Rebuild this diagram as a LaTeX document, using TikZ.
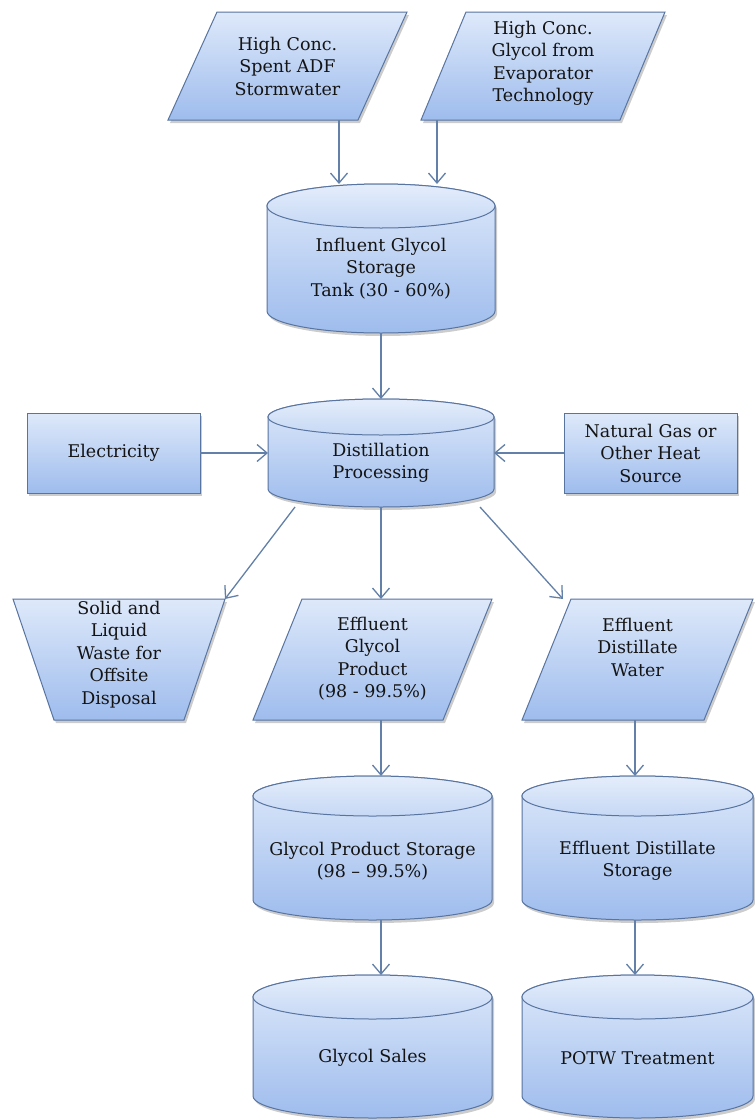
\documentclass[tikz,border=0pt]{standalone}
\usepackage{fontspec}
\setmainfont{DejaVu Serif}
\usetikzlibrary{arrows.meta,calc}
\pgfdeclarelayer{background}
\pgfsetlayers{background,main}

\definecolor{edge}{RGB}{88,116,160}
\definecolor{flow}{RGB}{98,128,168}
\definecolor{fillhi}{RGB}{222,233,250}
\definecolor{filllo}{RGB}{158,188,237}
\definecolor{lidhi}{RGB}{228,237,251}
\definecolor{lidlo}{RGB}{198,216,245}
\definecolor{ink}{RGB}{20,20,20}

\tikzset{
  txt/.style={font=\fontsize{17.5}{22.5}\selectfont, text=ink, align=center, inner sep=0pt},
  frame/.style={inner sep=0pt, outer sep=0pt},
  shapefill/.style={draw=edge, line width=1pt, top color=fillhi, bottom color=filllo,
    preaction={fill=black, fill opacity=0.2, transform canvas={xshift=2pt,yshift=-3pt}}},
  lidfill/.style={draw=edge, line width=1pt, top color=lidhi, bottom color=lidlo},
  flowline/.style={draw=flow, line width=1.3pt, -{Straight Barb[length=10pt,width=17pt]}},
}

% parallelogram leaning right, drawn inside the frame node #1, slant #2
\newcommand\paradraw[2]{%
  \begin{pgfonlayer}{background}
    \path[shapefill] ([xshift=#2]#1.north west) -- (#1.north east)
      -- ([xshift=-#2]#1.south east) -- (#1.south west) -- cycle;
  \end{pgfonlayer}}
% trapezoid narrowing downwards, inset #2 at the bottom
\newcommand\trapdraw[2]{%
  \begin{pgfonlayer}{background}
    \path[shapefill] (#1.north west) -- (#1.north east)
      -- ([xshift=-#2]#1.south east) -- ([xshift=#2]#1.south west) -- cycle;
  \end{pgfonlayer}}
% storage tank: half width #2, end-cap radius #3
\newcommand\tankdraw[3]{%
  \begin{pgfonlayer}{background}
    \path[shapefill] ([yshift=-#3]#1.north west) -- ([yshift=#3]#1.south west)
      arc[start angle=180,end angle=360,x radius=#2,y radius=#3]
      -- ([yshift=-#3]#1.north east)
      arc[start angle=0,end angle=180,x radius=#2,y radius=#3] -- cycle;
    \path[lidfill] ([yshift=-#3]#1.north) ellipse[x radius=#2,y radius=#3];
  \end{pgfonlayer}}

\begin{document}
\begin{tikzpicture}[x=1pt,y=1pt]
\useasboundingbox (0,0) rectangle (755,-1120);
\begin{pgfonlayer}{background}
  \fill[white] (0,0) rectangle (755,-1120);
\end{pgfonlayer}

% inputs
\node[frame, minimum width=239pt, minimum height=108pt,
  label={[txt]center:{High Conc.\\Spent ADF\\Stormwater}}] (in1) at (287.5,-66) {};
\paradraw{in1}{49pt}
\node[frame, minimum width=244pt, minimum height=108pt,
  label={[txt,yshift=2.5pt]center:{High Conc.\\Glycol from\\Evaporator\\Technology}}] (in2) at (543,-66) {};
\paradraw{in2}{45pt}

% influent tank
\node[frame, minimum width=228pt, minimum height=149pt,
  label={[txt,yshift=-10pt]center:{Influent Glycol\\Storage\\Tank (30 - 60\%)}}] (tank) at (381,-258.5) {};
\tankdraw{tank}{114pt}{22pt}

% distillation
\node[frame, minimum width=226pt, minimum height=108pt,
  label={[txt,yshift=-10pt]center:{Distillation\\Processing}}] (dist) at (381,-453) {};
\tankdraw{dist}{113pt}{18pt}

\node[txt, shapefill, outer sep=0pt, minimum width=173pt, minimum height=80pt] (elec) at (113.5,-453) {Electricity};
\node[txt, shapefill, outer sep=0pt, minimum width=173pt, minimum height=80pt] (gas) at (650.5,-453) {Natural Gas or\\Other Heat\\Source};

% outputs
\node[frame, minimum width=212pt, minimum height=121pt,
  label={[txt,yshift=5pt]center:{Solid and\\Liquid\\Waste for\\Offsite\\Disposal}}] (waste) at (119,-659.5) {};
\trapdraw{waste}{41pt}
\node[frame, minimum width=239pt, minimum height=121pt,
  label={[txt,yshift=1pt]center:{Effluent\\Glycol\\Product\\(98 - 99.5\%)}}] (eg) at (372.5,-659.5) {};
\paradraw{eg}{49pt}
\node[frame, minimum width=231pt, minimum height=121pt,
  label={[txt,yshift=12.5pt]center:{Effluent\\Distillate\\Water}}] (dw) at (637.5,-659.5) {};
\paradraw{dw}{49pt}

% storage and destinations
\node[frame, minimum width=239pt, minimum height=144pt,
  label={[txt,yshift=-13pt]center:{Glycol Product Storage\\(98 -- 99.5\%)}}] (gps) at (372.5,-848) {};
\tankdraw{gps}{119.5pt}{20pt}
\node[frame, minimum width=231pt, minimum height=144pt,
  label={[txt,yshift=-13pt]center:{Effluent Distillate\\Storage}}] (eds) at (637.5,-848) {};
\tankdraw{eds}{115.5pt}{20pt}
\node[frame, minimum width=239pt, minimum height=143pt,
  label={[txt,yshift=-11.5pt]center:{Glycol Sales}}] (sales) at (372.5,-1046.5) {};
\tankdraw{sales}{119.5pt}{22pt}
\node[frame, minimum width=231pt, minimum height=143pt,
  label={[txt,yshift=-11.5pt]center:{POTW Treatment}}] (potw) at (637.5,-1046.5) {};
\tankdraw{potw}{115.5pt}{22pt}

% flow lines
\coordinate (c1) at (339,0);
\coordinate (c2) at (437,0);
\coordinate (cm) at (381,0);
\coordinate (cr) at (635,0);
\draw[flowline] (in1.south -| c1) -- (tank.north -| c1);
\draw[flowline] (in2.south -| c2) -- (tank.north -| c2);
\draw[flowline] (tank.south) -- (dist.north);
\draw[flowline] (elec.east) -- (dist.west);
\draw[flowline] (gas.west) -- (dist.east);
\draw[flowline] ([xshift=-86pt]dist.south) -- (waste.north east);
\draw[flowline] (dist.south) -- (eg.north -| cm);
\draw[flowline] ([xshift=99pt]dist.south) -- ([xshift=41pt]dw.north west);
\draw[flowline] (eg.south -| cm) -- (gps.north -| cm);
\draw[flowline] (gps.south -| cm) -- (sales.north -| cm);
\draw[flowline] (dw.south -| cr) -- (eds.north -| cr);
\draw[flowline] (eds.south -| cr) -- (potw.north -| cr);
\end{tikzpicture}
\end{document}
